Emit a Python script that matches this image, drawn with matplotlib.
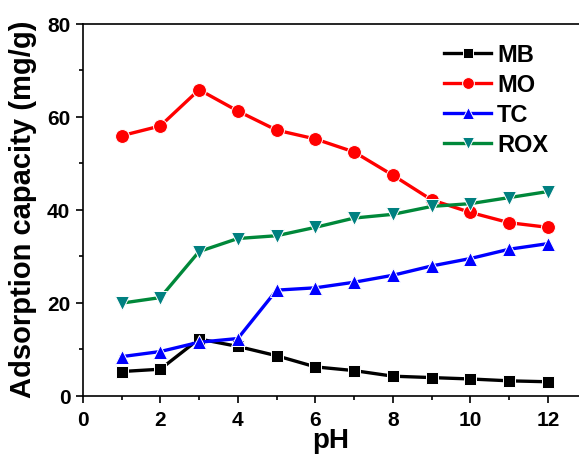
import matplotlib.pyplot as plt

plt.rcParams['font.family'] = ['Liberation Sans', 'DejaVu Sans']
plt.rcParams['font.weight'] = 'bold'

ph = [1, 2, 3, 4, 5, 6, 7, 8, 9, 10, 11, 12]
mb = [5.2, 5.7, 12.2, 10.6, 8.6, 6.2, 5.4, 4.2, 3.9, 3.6, 3.2, 3.0]
mo = [55.9, 58.0, 65.8, 61.2, 57.1, 55.2, 52.4, 47.4, 42.1, 39.4, 37.2, 36.2]
tc = [8.4, 9.5, 11.5, 12.3, 22.7, 23.2, 24.4, 25.9, 27.9, 29.5, 31.5, 32.7]
rox = [19.9, 21.1, 31.0, 33.8, 34.4, 36.2, 38.2, 39.0, 40.7, 41.3, 42.6, 43.9]

fig = plt.figure(figsize=(5.79, 4.56), dpi=100)
ax = fig.add_axes([0.143, 0.13, 0.857, 0.816])

# thin white edge gives the small gap between line and symbol
ax.plot(ph, mb, '-s', color='black', lw=2.4, ms=9, mec='white', mew=0.7, label='MB')
ax.plot(ph, mo, '-o', color='red', lw=2.4, ms=10, mec='white', mew=0.7, label='MO')
ax.plot(ph, tc, '-^', color='blue', lw=2.4, ms=10.5, mec='white', mew=0.7, label='TC')
ax.plot(ph, rox, '-v', color='#00883a', mfc='#008080', mec='white', mew=0.7,
        lw=2.4, ms=10.5, label='ROX')

ax.set_xlim(0, 12.8)
ax.set_ylim(0, 80)
ax.set_xticks(range(0, 13, 2))
ax.set_xticks(range(0, 13), minor=True)
ax.set_yticks(range(0, 81, 20))
ax.set_yticks(range(0, 81, 10), minor=True)
ax.tick_params(labelsize=15, width=1.2, length=5, direction='out', pad=4)
ax.tick_params(axis='x', pad=5)
ax.tick_params(which='minor', length=3, width=1.2)
for lab in ax.get_xticklabels() + ax.get_yticklabels():
    lab.set_fontweight('bold')
ax.spines['right'].set_visible(False)
for s in ['left', 'bottom', 'top']:
    ax.spines[s].set_linewidth(1.2)

ax.set_xlabel('pH', fontsize=20, fontweight='bold')
ax.xaxis.set_label_coords(0.5, 1 - 428 / 456, transform=fig.transFigure)
ax.xaxis.label.set_x((83 + 579) / 2 / 579)
ax.set_ylabel('Adsorption capacity (mg/g)', fontsize=21, fontweight='bold')
ax.yaxis.set_label_coords(37 / 579, 0.5, transform=fig.transFigure)
ax.yaxis.label.set_y(1 - 209 / 456)

leg = ax.legend(loc='upper left', bbox_to_anchor=(444 / 579, 1 - 44 / 456),
                bbox_transform=fig.transFigure, frameon=False,
                borderpad=0, borderaxespad=0,
                fontsize=17, handlelength=2.0, handletextpad=0.25, labelspacing=0.3,
                markerscale=0.85)
for t in leg.get_texts():
    t.set_fontweight('bold')

fig.savefig('out.png', dpi=100)
